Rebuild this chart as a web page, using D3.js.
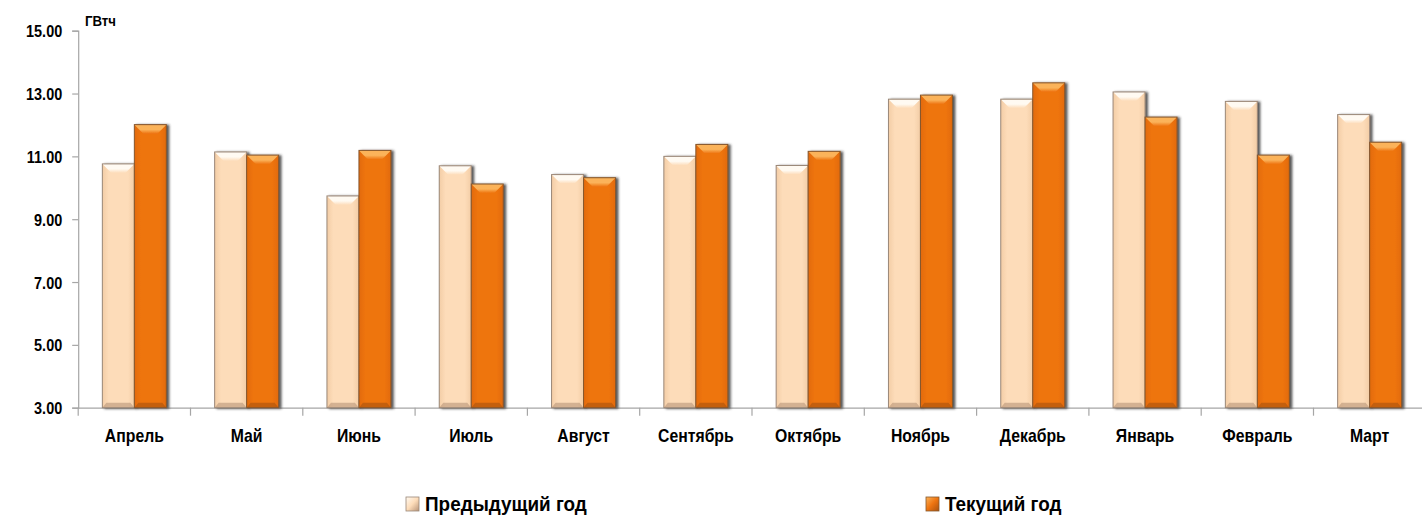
<!DOCTYPE html>
<html>
<head>
<meta charset="utf-8">
<script src="https://cdn.jsdelivr.net/npm/d3@7"></script>
<style>
  html, body { margin: 0; padding: 0; background: #ffffff; }
  svg { display: block; }
  text { font-family: "Liberation Sans", "DejaVu Sans", sans-serif; font-weight: bold; fill: #000; }
</style>
</head>
<body>
<svg id="chart" width="1422" height="517"></svg>
<script>
// Monthly electricity consumption, GWh
const months = ["Апрель", "Май", "Июнь", "Июль", "Август", "Сентябрь",
                "Октябрь", "Ноябрь", "Декабрь", "Январь", "Февраль", "Март"];
const previousYear = [10.76, 11.14, 9.74, 10.70, 10.42, 11.00, 10.71, 12.82, 12.82, 13.05, 12.75, 12.33];
const currentYear  = [12.01, 11.04, 11.19, 10.12, 10.32, 11.38, 11.16, 12.95, 13.34, 12.25, 11.04, 11.45];
const seriesNames = ["Предыдущий год", "Текущий год"];
const yTicks = [3, 5, 7, 9, 11, 13, 15];
const unitLabel = "ГВтч";

const svg = d3.select("#chart");
const margin = { left: 78.2, right: 1425.8, top: 30.7, bottom: 407.7 };

const x0 = d3.scaleBand().domain(months).range([margin.left, margin.right]).padding(0);
const x1 = d3.scaleBand().domain(seriesNames).range([0, x0.bandwidth()])
  .paddingInner(0).paddingOuter(0.755);
const y = d3.scaleLinear().domain([3, 15]).range([margin.bottom, margin.top]);

// Narrow the glyphs of a text selection horizontally (condensed look)
function condense(sel, factor) {
  sel.each(function () {
    const w = this.getComputedTextLength();
    d3.select(this).attr("textLength", w * factor).attr("lengthAdjust", "spacingAndGlyphs");
  });
}

// Palette: base, highlight (top bevel), shade (bottom bevel), outline
const styles = {
  "Предыдущий год": { base: "#fddcb9", light: "#fffaf2", dark: "#b89478", side: "#f3cda6", stroke: "#9a8778" },
  "Текущий год":    { base: "#ee7410", light: "#fbb35a", dark: "#a85210", side: "#e26a0a", stroke: "#85572e" }
};

const defs = svg.append("defs");
const shadow = defs.append("filter").attr("id", "barShadow")
  .attr("x", "-20%").attr("y", "-5%").attr("width", "150%").attr("height", "115%");
shadow.append("feDropShadow").attr("dx", 2.4).attr("dy", 0.6).attr("stdDeviation", 0.9)
  .attr("flood-color", "#2a2a2a").attr("flood-opacity", 0.8);

Object.entries(styles).forEach(([name, s], i) => {
  const g = defs.append("linearGradient").attr("id", "face" + i)
    .attr("x1", 0).attr("x2", 1).attr("y1", 0).attr("y2", 0);
  g.append("stop").attr("offset", 0).attr("stop-color", s.side);
  g.append("stop").attr("offset", 0.2).attr("stop-color", s.base);
  g.append("stop").attr("offset", 0.8).attr("stop-color", s.base);
  g.append("stop").attr("offset", 1).attr("stop-color", s.side);
  const t = defs.append("linearGradient").attr("id", "top" + i)
    .attr("x1", 0).attr("x2", 0).attr("y1", 0).attr("y2", 1);
  t.append("stop").attr("offset", 0).attr("stop-color", s.light);
  t.append("stop").attr("offset", 0.55).attr("stop-color", s.light);
  t.append("stop").attr("offset", 1).attr("stop-color", s.base);
});

// Axes
const yAxis = d3.axisLeft(y).tickValues(yTicks).tickFormat(d3.format(".2f")).tickSize(6).tickPadding(10);
const gy = svg.append("g").attr("transform", `translate(${margin.left},0)`).call(yAxis);
gy.select(".domain").attr("stroke", "#a6a6a6").attr("stroke-width", 1.2);
gy.selectAll(".tick line").attr("stroke", "#a6a6a6").attr("stroke-width", 1.2);
gy.selectAll(".tick text").style("font-size", "17px").attr("dy", "0.36em").call(condense, 0.85);

const xAxis = d3.axisBottom(x0).tickSize(0).tickPadding(21);
const gx = svg.append("g").attr("transform", `translate(0,${margin.bottom})`).call(xAxis);
gx.select(".domain").attr("stroke", "#a6a6a6").attr("stroke-width", 1.2);
gx.selectAll(".tick text").style("font-size", "19px").call(condense, 0.83);

// Category boundary ticks under the x axis
svg.append("g").selectAll("line")
  .data(months.map(m => x0(m)).concat([margin.right]))
  .join("line")
  .attr("x1", d => d).attr("x2", d => d)
  .attr("y1", margin.bottom).attr("y2", margin.bottom + 8)
  .attr("stroke", "#a6a6a6").attr("stroke-width", 1.2);

// Unit label
svg.append("text").attr("x", 85).attr("y", 26).style("font-size", "15px").text(unitLabel)
  .call(condense, 0.88);

// Bevelled bar drawing
function drawBar(sel, xPos, w, top, bottom, idx) {
  const s = styles[seriesNames[idx]];
  const h = bottom - top;
  const b = Math.min(9, h / 2);
  const g = sel.append("g").attr("filter", "url(#barShadow)");
  g.append("rect").attr("x", xPos).attr("y", top).attr("width", w).attr("height", h)
    .attr("fill", `url(#face${idx})`);
  g.append("path")
    .attr("d", `M${xPos},${top}L${xPos + w},${top}L${xPos + w - b},${top + b}L${xPos + b},${top + b}Z`)
    .attr("fill", `url(#top${idx})`);
  g.append("path")
    .attr("d", `M${xPos},${bottom}L${xPos + w},${bottom}L${xPos + w - 4},${bottom - 5}L${xPos + 4},${bottom - 5}Z`)
    .attr("fill", s.dark).attr("opacity", 0.6);
  g.append("rect").attr("x", xPos).attr("y", top).attr("width", w).attr("height", h)
    .attr("fill", "none").attr("stroke", s.stroke).attr("stroke-width", 1);
}

const barsLayer = svg.append("g");
months.forEach((m, i) => {
  [previousYear, currentYear].forEach((vals, k) => {
    const xPos = x0(m) + x1(seriesNames[k]);
    drawBar(barsLayer, xPos, x1.bandwidth(), y(vals[i]), y(3), k);
  });
});

// Legend
const legendPos = [{ x: 406, y: 497 }, { x: 926, y: 497 }];
seriesNames.forEach((name, k) => {
  const p = legendPos[k];
  const s = styles[name];
  const lg = svg.append("g");
  const grad = defs.append("linearGradient").attr("id", "legend" + k)
    .attr("x1", 0).attr("x2", 1).attr("y1", 0).attr("y2", 1);
  grad.append("stop").attr("offset", 0).attr("stop-color", s.light);
  grad.append("stop").attr("offset", 0.5).attr("stop-color", s.base);
  grad.append("stop").attr("offset", 1).attr("stop-color", s.dark);
  lg.append("rect").attr("x", p.x).attr("y", p.y).attr("width", 13).attr("height", 14)
    .attr("fill", `url(#legend${k})`).attr("stroke", s.stroke).attr("stroke-width", 0.8);
  lg.append("text").attr("x", p.x + 19).attr("y", p.y + 14)
    .style("font-size", "21px").text(name).call(condense, 0.9);
});
</script>
</body>
</html>
